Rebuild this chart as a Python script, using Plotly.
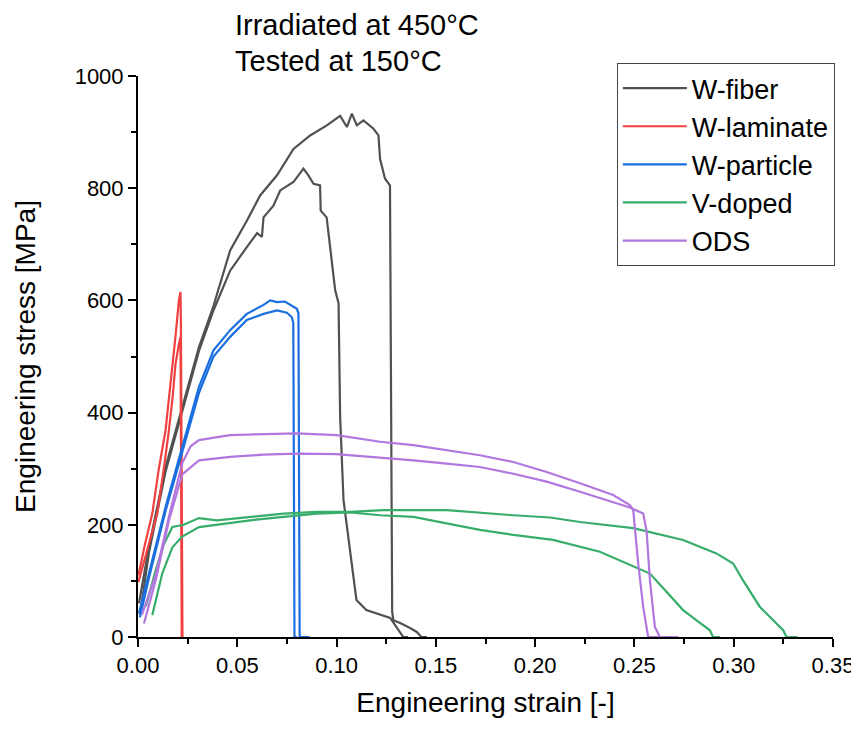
import plotly.graph_objects as go

# strain / stress values, two specimens per material
fiber_a_x = [0.0005, 0.0055, 0.0139, 0.0223, 0.0307, 0.038, 0.0464, 0.0548, 0.0615, 0.070, 0.0783,
             0.0867, 0.0951, 0.1018, 0.1052, 0.1077, 0.1102, 0.1135, 0.1186, 0.1211, 0.1219, 0.1244,
             0.1269, 0.1272, 0.1276, 0.1280, 0.1286, 0.132, 0.137, 0.1404, 0.1427, 0.1455]
fiber_a_y = [60, 161, 303, 410, 517, 590, 689, 742, 787, 823, 870, 894, 912, 929, 909, 933, 912, 921,
             906, 894, 852, 817, 805, 600, 300, 45, 30, 25, 16, 9, 0, 0]
fiber_b_x = [0.001, 0.0055, 0.0139, 0.0223, 0.0307, 0.038, 0.0464, 0.0548, 0.0600, 0.0624, 0.0632,
             0.0682, 0.0716, 0.0783, 0.0833, 0.0858, 0.0884, 0.0917, 0.0920, 0.095, 0.0968, 0.0993,
             0.101, 0.1018, 0.1035, 0.1068, 0.110, 0.115, 0.122, 0.127, 0.1336, 0.136]
fiber_b_y = [40, 150, 295, 405, 510, 582, 653, 695, 720, 713, 748, 769, 796, 811, 835, 823, 808, 805,
             760, 748, 695, 618, 595, 392, 244, 155, 66, 48, 39, 34, 0, 0]

lam_a_x = [0.0002, 0.0035, 0.0072, 0.0105, 0.0139, 0.0155, 0.0173, 0.019, 0.0206, 0.0214, 0.0216,
           0.0219, 0.0222, 0.0224]
lam_a_y = [110, 165, 220, 300, 369, 420, 487, 540, 600, 615, 560, 300, 50, 0]
lam_b_x = [0.0002, 0.005, 0.0097, 0.013, 0.0156, 0.0175, 0.0189, 0.0205, 0.0214, 0.0217, 0.022]
lam_b_y = [98, 160, 220, 300, 369, 430, 487, 520, 535, 300, 0]

part_a_x = [0.0005, 0.0055, 0.0139, 0.0223, 0.0307, 0.038, 0.0464, 0.0548, 0.0632, 0.0666, 0.070,
            0.0740, 0.0783, 0.0800, 0.0808, 0.0810, 0.0812, 0.0814, 0.084, 0.0864]
part_a_y = [42, 113, 232, 339, 446, 511, 547, 576, 592, 600, 597, 598, 588, 585, 577, 300, 50, 0, 0, 0]
part_b_x = [0.001, 0.0055, 0.0139, 0.0223, 0.0307, 0.038, 0.0464, 0.0548, 0.0632, 0.070, 0.0750,
            0.0775, 0.0782, 0.0785, 0.0788, 0.080]
part_b_y = [35, 105, 225, 330, 435, 500, 535, 565, 576, 582, 578, 570, 560, 300, 0, 0]

vdop_a_x = [0.004, 0.009, 0.013, 0.0173, 0.023, 0.0307, 0.0397, 0.0565, 0.0733, 0.090, 0.1068,
            0.1236, 0.1555, 0.189, 0.2075, 0.2226, 0.2494, 0.2745, 0.2913, 0.2997, 0.3047, 0.3131,
            0.3200, 0.3249, 0.3266, 0.3322]
vdop_a_y = [55, 120, 165, 196, 200, 212, 208, 214, 220, 223, 223, 226, 226, 217, 213, 205, 194, 173,
            149, 131, 101, 54, 30, 12, 0, 0]
vdop_b_x = [0.0072, 0.0122, 0.0173, 0.0223, 0.0307, 0.0397, 0.0565, 0.0733, 0.090, 0.1068, 0.1219,
            0.1387, 0.1555, 0.1722, 0.189, 0.209, 0.2326, 0.2527, 0.2578, 0.2650, 0.2745, 0.2820,
            0.288, 0.2896, 0.293]
vdop_b_y = [39, 113, 160, 179, 196, 200, 208, 214, 220, 222, 217, 214, 203, 191, 182, 173, 152, 122,
            113, 85, 48, 28, 12, 0, 0]

ods_a_x = [0.002, 0.0089, 0.0156, 0.0223, 0.0265, 0.0307, 0.0464, 0.063, 0.080, 0.100, 0.1219,
           0.1387, 0.1555, 0.1722, 0.189, 0.2058, 0.2226, 0.2393, 0.2477, 0.2494, 0.2519, 0.2544,
           0.2569, 0.262]
ods_a_y = [40, 110, 215, 310, 340, 351, 360, 362, 363, 360, 348, 342, 333, 324, 312, 294, 274, 253,
           235, 226, 131, 54, 0, 0]
ods_b_x = [0.003, 0.0089, 0.0156, 0.0223, 0.0307, 0.0464, 0.063, 0.080, 0.100, 0.1219, 0.1387,
           0.1555, 0.1722, 0.189, 0.2058, 0.2226, 0.2393, 0.2477, 0.2544, 0.2561, 0.2578, 0.2603,
           0.2628, 0.272]
ods_b_y = [24, 101, 208, 290, 315, 321, 325, 327, 326, 320, 315, 309, 303, 291, 277, 259, 241, 231,
           220, 190, 101, 18, 0, 0]

materials = ["W-fiber", "W-laminate", "W-particle", "V-doped", "ODS"]
colors = ["#515151", "#F14040", "#1A6FDF", "#37AD6B", "#B177DE"]
curves = [
    [(fiber_a_x, fiber_a_y), (fiber_b_x, fiber_b_y)],
    [(lam_a_x, lam_a_y), (lam_b_x, lam_b_y)],
    [(part_a_x, part_a_y), (part_b_x, part_b_y)],
    [(vdop_a_x, vdop_a_y), (vdop_b_x, vdop_b_y)],
    [(ods_a_x, ods_a_y), (ods_b_x, ods_b_y)],
]

FONT = "Arial, Liberation Sans, sans-serif"

fig = go.Figure()
for name, color, pair in zip(materials, colors, curves):
    for i, (xs, ys) in enumerate(pair):
        fig.add_trace(go.Scatter(
            x=xs, y=ys, mode="lines", name=name, legendgroup=name,
            showlegend=(i == 0), line=dict(color=color, width=2.2)
        ))

axis_style = dict(
    showline=True, linecolor="black", linewidth=2, mirror=False,
    ticks="outside", ticklen=8, tickwidth=2, tickcolor="black",
    showgrid=False, zeroline=False, automargin=False,
    tickfont=dict(family=FONT, size=22, color="black"),
    title_font=dict(family=FONT, size=28, color="black"),
)

fig.update_xaxes(
    range=[0, 0.35], dtick=0.05, tickformat=".2f",
    title_text="Engineering strain [-]",
    minor=dict(dtick=0.025, ticks="outside", ticklen=5, tickwidth=2, tickcolor="black"),
    **axis_style
)
fig.update_yaxes(
    range=[0, 1000], dtick=200,
    title_text="Engineering stress [MPa]", title_standoff=31,
    minor=dict(dtick=100, ticks="outside", ticklen=5, tickwidth=2, tickcolor="black"),
    **axis_style
)

fig.add_annotation(text="Irradiated at 450°C", xref="paper", yref="paper", x=0.136, y=1.0905,
                   xanchor="left", yanchor="middle", showarrow=False,
                   font=dict(family=FONT, size=29, color="black"))
fig.add_annotation(text="Tested at 150°C", xref="paper", yref="paper", x=0.136, y=1.026,
                   xanchor="left", yanchor="middle", showarrow=False,
                   font=dict(family=FONT, size=29, color="black"))

# page body adds an 8px offset, so the figure is 8px smaller than the window
fig.update_layout(
    width=851, height=723,
    margin=dict(l=130, r=26, t=68, b=94),
    plot_bgcolor="white", paper_bgcolor="white",
    font=dict(family=FONT, color="black"),
    legend=dict(
        x=0.689, y=1.023, xanchor="left", yanchor="top",
        bgcolor="white", bordercolor="#444444", borderwidth=1,
        font=dict(family=FONT, size=27, color="black"),
        itemwidth=64, tracegroupgap=0,
    ),
)

fig.write_html("out.html")
